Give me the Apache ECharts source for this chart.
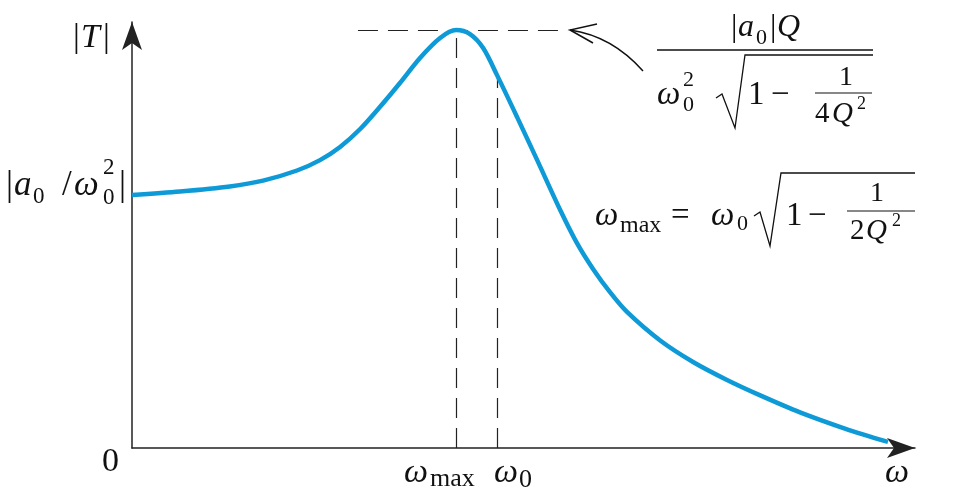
<!DOCTYPE html>
<html><head><meta charset="utf-8">
<script src="https://cdn.jsdelivr.net/npm/echarts@6/dist/echarts.min.js"></script>
<style>html,body{margin:0;padding:0;background:#fff}#c{width:962px;height:497px}</style>
</head><body><div id="c"></div>
<script>
// angular frequency (in units of omega0) and |T| (in units of |a0/omega0^2|)
const omega = [0, 0.1315, 0.268, 0.359, 0.452, 0.515, 0.570, 0.625, 0.679, 0.734, 0.789, 0.844, 0.888, 0.926, 0.962, 1.0, 1.055, 1.110, 1.173, 1.219, 1.263, 1.310, 1.356, 1.447, 1.537, 1.630, 1.721, 1.830, 1.953, 2.071];
const magT  = [1.0, 1.014, 1.034, 1.057, 1.097, 1.138, 1.190, 1.261, 1.348, 1.443, 1.542, 1.621, 1.652, 1.636, 1.581, 1.474, 1.308, 1.138, 0.941, 0.810, 0.708, 0.615, 0.538, 0.425, 0.340, 0.269, 0.208, 0.141, 0.077, 0.024];
const axisMax = [2.145, 1.684];      // x, y
const wMax = 0.888, w0 = 1.0, peakT = 1.652, w0T = 1.478;
const peakDash = [0.619, 1.195];

const SERIF = "'Liberation Serif','Times New Roman',serif";
function T(x, y, text, size, italic) {
  return {type:'text', x:x, y:y, z:100, silent:true,
    style:{text:text, fontFamily:SERIF, fontSize:size, fontStyle: italic ? 'italic' : 'normal',
           fill:'#111', align:'left', verticalAlign:'middle'}};
}
function L(x1, y1, x2, y2, w) {
  return {type:'line', z:100, silent:true, shape:{x1:x1,y1:y1,x2:x2,y2:y2}, style:{stroke:'#111', lineWidth:w || 1.3}};
}
function P(pts, w) {
  return {type:'polyline', z:100, silent:true, shape:{points:pts}, style:{stroke:'#111', fill:null, lineWidth:w || 1.3}};
}

const graphics = [
  // |T|
  T(73, 38, '|', 34), T(81, 38, 'T', 34, true), T(103, 38, '|', 34),
  // |a0 / w0^2|
  T(6, 186, '|', 35), T(14, 186, 'a', 35, true), T(33, 197, '0', 23),
  T(62, 186, '/', 35), T(74, 186, 'ω', 35, true), T(103, 168, '2', 23), T(103, 198, '0', 23), T(119, 186, '|', 35),
  // axis labels
  T(102, 462, '0', 34),
  T(404, 473, 'ω', 34, true), T(430, 479, 'max', 26),
  T(494, 473, 'ω', 34, true), T(519, 480, '0', 26),
  T(885, 473, 'ω', 34, true),
  // formula 1
  T(731, 28, '|', 32), T(738, 28, 'a', 32, true), T(756, 38, '0', 22), T(770, 28, '|', 32), T(777, 28, 'Q', 32, true),
  L(657, 50, 873, 50, 1.5),
  T(657, 95, 'ω', 33, true), T(683, 80, '2', 22), T(683, 105, '0', 22),
  P([[716, 98], [722, 94], [735, 128], [745, 55], [873, 55]]),
  T(748, 95, '1', 33), T(771, 95, '−', 33),
  T(839, 78, '1', 28), L(815, 93, 872, 93, 1.2), T(815, 114, '4', 29), T(832, 114, 'Q', 29, true), T(857, 104, '2', 18),
  // formula 2
  T(595, 216, 'ω', 33, true), T(620, 226, 'max', 24),
  T(671, 216, '=', 33),
  T(711, 216, 'ω', 33, true), T(737, 224, '0', 22),
  P([[754, 216], [760, 212], [770, 246], [781, 173], [915, 173]]),
  T(786, 216, '1', 33), T(808, 216, '−', 33),
  T(870, 194, '1', 28), L(847, 211, 915, 211, 1.2), T(850, 231, '2', 29), T(866, 231, 'Q', 29, true), T(892, 221, '2', 18),
  // pointer arrow
  {type:'bezierCurve', z:100, silent:true, shape:{x1:643, y1:71, x2:570, y2:30, cpx1:612, cpy1:36}, style:{stroke:'#111', fill:null, lineWidth:1.5}},
  P([[597, 24], [570, 30], [593, 43]], 1.5)
];

const dashStyle = {color:'#222', width:1.2, type:[20, 10]};
const chart = echarts.init(document.getElementById('c'));
chart.setOption({
  animation:false,
  grid:{left:132, right:47, top:22, bottom:49},
  xAxis:{type:'value', min:0, max:axisMax[0],
    axisLine:{show:true, lineStyle:{color:'#222', width:1.5}, symbol:['none','arrow'], symbolSize:[15, 28], symbolOffset:[0, 0]},
    axisTick:{show:false}, axisLabel:{show:false}, splitLine:{show:false}},
  yAxis:{type:'value', min:0, max:axisMax[1],
    axisLine:{show:true, lineStyle:{color:'#222', width:1.5}, symbol:['none','arrow'], symbolSize:[15, 28], symbolOffset:[0, 0]},
    axisTick:{show:false}, axisLabel:{show:false}, splitLine:{show:false}},
  series:[{
    type:'line', data: omega.map((w, i) => [w, magT[i]]),
    smooth:0.3, showSymbol:false, clip:false,
    lineStyle:{color:'#0e9ad7', width:4.5}, z:5,
    markLine:{silent:true, symbol:['none','none'], label:{show:false}, lineStyle:dashStyle, z:3,
      data:[
        [{coord:[peakDash[0], peakT]}, {coord:[peakDash[1], peakT]}],
        [{coord:[wMax, 0]}, {coord:[wMax, peakT]}],
        [{coord:[w0, 0]}, {coord:[w0, w0T]}]
      ]}
  }],
  graphic: graphics
});
</script></body></html>
